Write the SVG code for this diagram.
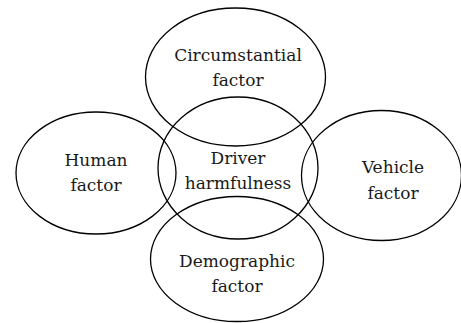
<svg xmlns="http://www.w3.org/2000/svg" width="461" height="323" viewBox="0 0 461 323">
<style>
.e{fill:none;stroke:#000;stroke-width:1.3}
</style>
<rect width="461" height="323" fill="#fff"/>
<g font-family="DejaVu Serif, Liberation Serif, serif" font-size="17" fill="#1a1a1a" text-anchor="middle">
<g id="circumstantial">
<ellipse class="e" cx="235.5" cy="77" rx="90" ry="69"/>
<text x="238" y="60.5">Circumstantial</text>
<text x="238" y="86">factor</text>
</g>
<g id="driver">
<ellipse class="e" cx="238" cy="168" rx="80" ry="71"/>
<text x="238" y="164">Driver</text>
<text x="238" y="189">harmfulness</text>
</g>
<g id="human">
<ellipse class="e" cx="96" cy="173" rx="80" ry="61"/>
<text x="96" y="165.5">Human</text>
<text x="96" y="191">factor</text>
</g>
<g id="vehicle">
<ellipse class="e" cx="381.5" cy="175.5" rx="80" ry="65"/>
<text x="393" y="173">Vehicle</text>
<text x="393" y="199">factor</text>
</g>
<g id="demographic">
<ellipse class="e" cx="237" cy="259" rx="86.5" ry="62.5"/>
<text x="237" y="266.5">Demographic</text>
<text x="237" y="291.5">factor</text>
</g>
</g>
<g id="connectors"></g>
</svg>
